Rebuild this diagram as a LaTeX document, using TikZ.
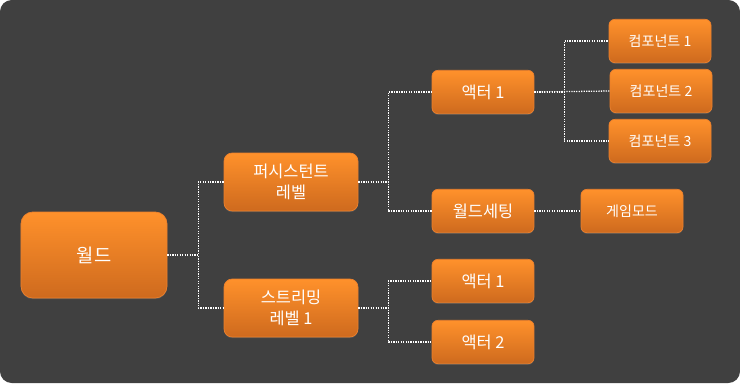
\documentclass[tikz,border=0pt]{standalone}
\usepackage{fontspec}
\newfontfamily\kr{Noto Sans CJK KR}
\usepackage{tikz}
\usetikzlibrary{positioning,shadows}
\definecolor{panelgray}{RGB}{64,64,64}
\definecolor{boxtop}{RGB}{255,145,43}
\definecolor{boxbottom}{RGB}{206,106,30}
\definecolor{boxedge}{RGB}{236,128,44}

\begin{document}
\begin{tikzpicture}[
			x=0.03cm, y=-0.03cm,
			box/.style={draw=boxedge, line width=0.6pt, top color=boxtop,
				bottom color=boxbottom, text=white, align=center,
				font=\kr\fontsize{14}{18}\selectfont, inner sep=0pt,
				drop shadow={opacity=0.35, shadow xshift=0pt, shadow yshift=-1pt}},
			rootbox/.style={box, rounded corners=10pt,
				font=\kr\fontsize{16}{18}\selectfont,
				minimum width=4.38cm, minimum height=2.58cm},
			levelbox/.style={box, rounded corners=7pt,
				minimum width=4.02cm, minimum height=1.74cm},
			leafbox/.style={box, rounded corners=5pt,
				minimum width=3.06cm, minimum height=1.3cm},
			smallbox/.style={leafbox, font=\kr\fontsize{12}{14}\selectfont},
			link/.style={draw=white, densely dotted, line width=1.1pt}
		]
		% panel
		\fill[panelgray, rounded corners=10pt] (0,0) rectangle (740,383);
		\useasboundingbox (0,0) rectangle (740,383);

		% nodes
		\node[rootbox] (world) at (94,255) {월드};
		\node[levelbox] (persist) at (291,182) {퍼시스턴트\\레벨};
		\node[levelbox] (stream) at (291,308) {스트리밍\\레벨 1};
		\node[leafbox] (actorA) at (483,92) {액터 1};
		\node[leafbox] (settings) at (483,211) {월드세팅};
		\node[smallbox] (gamemode) at (632,211) {게임모드};
		\node[smallbox] (compA) at (660,41) {컴포넌트 1};
		\node[smallbox] (compB) at (661,91) {컴포넌트 2};
		\node[smallbox] (compC) at (660,141) {컴포넌트 3};
		\node[leafbox] (actorB) at (483,281) {액터 1};
		\node[leafbox] (actorC) at (483,342) {액터 2};

		% connectors
		\draw[link] (world.east) -- ++(31,0) |- (persist.west);
		\draw[link] (world.east) -- ++(31,0) |- (stream.west);
		\draw[link] (persist.east) -- ++(30,0) |- (actorA.west);
		\draw[link] (persist.east) -- ++(30,0) |- (settings.west);
		\draw[link] (stream.east) -- ++(30,0) |- (actorB.west);
		\draw[link] (stream.east) -- ++(30,0) |- (actorC.west);
		\draw[link] (actorA.east) -- ++(30,0) |- (compA.west);
		\draw[link] (actorA.east) -- (compB.west);
		\draw[link] (actorA.east) -- ++(30,0) |- (compC.west);
		\draw[link] (settings) -- (gamemode);
\end{tikzpicture}
\end{document}
